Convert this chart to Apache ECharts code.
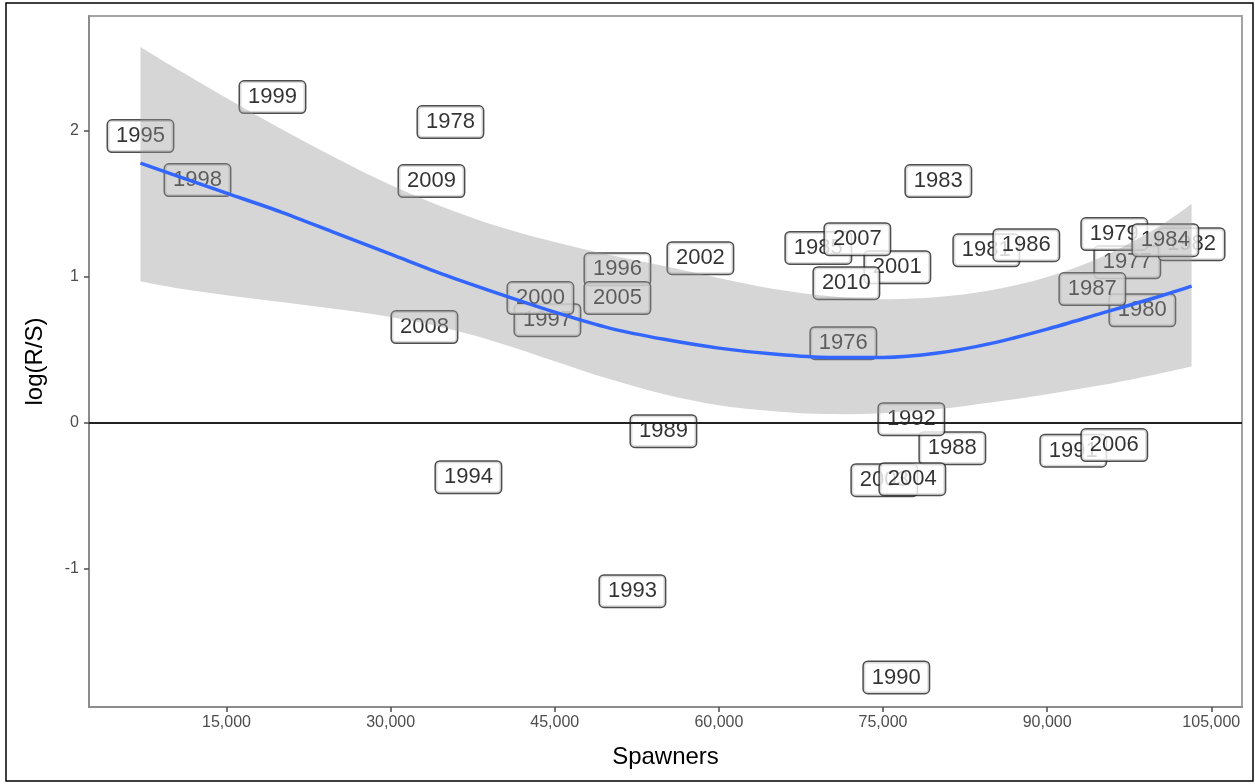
<!DOCTYPE html>
<html>
<head>
<meta charset="utf-8">
<title>Spawners vs log(R/S)</title>
<script src="https://cdn.jsdelivr.net/npm/echarts@6/dist/echarts.min.js"></script>
<style>
  html, body { margin: 0; padding: 0; background: #fff; }
  #chart { width: 1255px; height: 784px; }
</style>
</head>
<body>
<div id="chart"></div>
<script>
// Brood years with spawner abundance and productivity (log recruits per spawner)
const years = [1976, 1977, 1978, 1979, 1980, 1981, 1982, 1983, 1984, 1985,
               1986, 1987, 1988, 1989, 1990, 1991, 1992, 1993, 1994, 1995,
               1996, 1997, 1998, 1999, 2000, 2001, 2002, 2003, 2004, 2005,
               2006, 2007, 2008, 2009, 2010];
const spawners = [71375, 97325, 35467, 96135, 98700, 84440, 103200, 80056, 100800, 69090,
                  88095, 94130, 81335, 54930, 76215, 92390, 77590, 52097, 37110, 7140,
                  50726, 44330, 12350, 19203, 43690, 76310, 58310, 75120, 77680, 50726,
                  96135, 72655, 33091, 33731, 71650];
const logRS = [0.545, 1.098, 2.057, 1.291, 0.770, 1.180, 1.222, 1.653, 1.249, 1.196,
               1.215, 0.915, -0.173, -0.057, -1.741, -0.190, 0.025, -1.151, -0.372, 1.961,
               1.050, 0.702, 1.660, 2.228, 0.853, 1.064, 1.126, -0.392, -0.385, 0.853,
               -0.152, 1.256, 0.655, 1.653, 0.955];

// Smoothed trend with its confidence band
const fitX = [7140, 10000, 15000, 20000, 25000, 30000, 35000, 40000, 45000, 50000,
              55000, 60000, 65000, 70000, 75000, 80000, 85000, 90000, 95000, 100000, 103200];
const fitY = [1.776, 1.701, 1.571, 1.441, 1.297, 1.154, 1.010, 0.880, 0.757, 0.648,
              0.571, 0.511, 0.470, 0.447, 0.447, 0.477, 0.545, 0.641, 0.750, 0.859, 0.935];
const bandUpper = [2.570, 2.440, 2.221, 2.009, 1.811, 1.626, 1.469, 1.339, 1.236, 1.147,
                   1.072, 0.990, 0.915, 0.867, 0.846, 0.860, 0.908, 0.997, 1.134, 1.333, 1.497];
const bandLower = [0.969, 0.928, 0.873, 0.826, 0.778, 0.723, 0.648, 0.545, 0.422, 0.299,
                   0.196, 0.121, 0.080, 0.060, 0.066, 0.094, 0.141, 0.196, 0.258, 0.333, 0.385];

// Axis ticks
const xTicks = [15000, 30000, 45000, 60000, 75000, 90000, 105000];
const yTicks = [-1, 0, 1, 2];

const chart = echarts.init(document.getElementById('chart'), null, { renderer: 'canvas' });

const FONT = 'Liberation Sans, Arial, sans-serif';
const tickColor = '#4d4d4d';
const frameGrey = '#a3a3a3';

const labelData = years.map((y, i) => ({ name: String(y), value: [spawners[i], logRS[i]] }));

// Catmull-Rom spline through pixel points, as cubic Bezier segments
function splineSegments(pts) {
  let d = '';
  for (let i = 0; i < pts.length - 1; i++) {
    const p0 = pts[Math.max(i - 1, 0)];
    const p1 = pts[i];
    const p2 = pts[i + 1];
    const p3 = pts[Math.min(i + 2, pts.length - 1)];
    const c1 = [p1[0] + (p2[0] - p0[0]) / 6, p1[1] + (p2[1] - p0[1]) / 6];
    const c2 = [p2[0] - (p3[0] - p1[0]) / 6, p2[1] - (p3[1] - p1[1]) / 6];
    d += ` C${c1[0]},${c1[1]} ${c2[0]},${c2[1]} ${p2[0]},${p2[1]}`;
  }
  return d;
}

const option = {
  animation: false,
  backgroundColor: '#fff',
  textStyle: { fontFamily: FONT },
  graphic: [{
    type: 'rect',
    shape: { x: 6, y: 3, width: 1247, height: 778 },
    style: { fill: 'none', stroke: '#000', lineWidth: 1.5 },
    silent: true
  }],
  grid: {
    left: 89, top: 16, right: 13, bottom: 77,
    show: true, borderColor: frameGrey, borderWidth: 2, backgroundColor: 'transparent'
  },
  xAxis: {
    type: 'value',
    min: 2436, max: 107808,
    name: 'Spawners', nameLocation: 'middle', nameGap: 38,
    nameTextStyle: { fontSize: 24, color: '#000', fontFamily: FONT },
    axisLine: { show: true, onZero: false, lineStyle: { color: '#8c8c8c', width: 2 } },
    axisTick: { show: true, length: 5, lineStyle: { color: '#4d4d4d', width: 1.5 }, customValues: xTicks },
    axisLabel: {
      customValues: xTicks, margin: 8, fontSize: 16, color: tickColor, fontFamily: FONT,
      formatter: v => Number(v).toLocaleString('en-US')
    },
    splitLine: { show: false }
  },
  yAxis: {
    type: 'value',
    min: -1.943, max: 2.782,
    name: 'log(R/S)', nameLocation: 'middle', nameGap: 42, nameRotate: 90,
    nameTextStyle: { fontSize: 24, color: '#000', fontFamily: FONT },
    axisLine: { show: true, onZero: false, lineStyle: { color: '#8c8c8c', width: 2 } },
    axisTick: { show: true, length: 5, lineStyle: { color: '#4d4d4d', width: 1.5 }, customValues: yTicks },
    axisLabel: { customValues: yTicks, margin: 10, fontSize: 16, color: tickColor, fontFamily: FONT },
    splitLine: { show: false }
  },
  series: [
    {
      // horizontal reference at zero
      type: 'line', z: 1, data: [], silent: true,
      markLine: {
        silent: true, symbol: 'none', label: { show: false },
        lineStyle: { color: '#222', width: 2, type: 'solid' },
        data: [{ yAxis: 0 }]
      }
    },
    {
      // year labels at each observation
      type: 'scatter', z: 2, symbolSize: 0, silent: true,
      data: labelData,
      label: {
        show: true, position: 'inside',
        formatter: p => p.name,
        fontSize: 22, fontFamily: FONT, color: '#000',
        backgroundColor: '#fff', borderColor: '#222', borderWidth: 1.5, borderRadius: 4,
        padding: [4, 8, 3, 8], lineHeight: 24
      },
      labelLayout: { hideOverlap: false }
    },
    {
      // confidence band of the smoother, drawn over the labels
      type: 'custom', z: 3, silent: true,
      data: [[fitX[0], fitY[0]]],
      renderItem: (params, api) => {
        const up = fitX.map((x, i) => api.coord([x, bandUpper[i]]));
        const lo = fitX.map((x, i) => api.coord([x, bandLower[i]])).reverse();
        const d = `M${up[0][0]},${up[0][1]}` + splineSegments(up) +
                  ` L${lo[0][0]},${lo[0][1]}` + splineSegments(lo) + ' Z';
        return {
          type: 'path',
          shape: { pathData: d },
          style: { fill: 'rgba(153,153,153,0.4)' }
        };
      }
    },
    {
      // smoothed fit
      type: 'line', z: 4, silent: true,
      data: fitX.map((x, i) => [x, fitY[i]]),
      smooth: 0.3, showSymbol: false, symbol: 'none',
      lineStyle: { color: '#3366FF', width: 3.5 }
    }
  ]
};

chart.setOption(option);
</script>
</body>
</html>
